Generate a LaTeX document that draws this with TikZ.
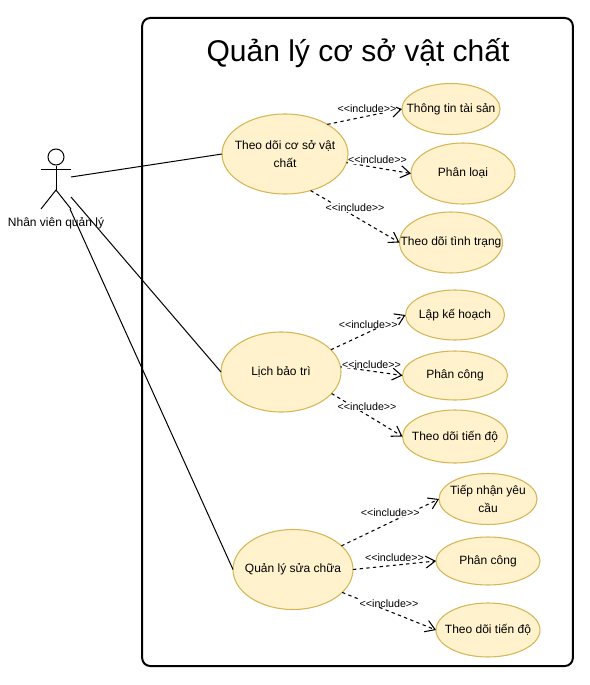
\documentclass[tikz,border=0pt]{standalone}
\usepackage{fontspec}
\setmainfont{Liberation Sans}
\usetikzlibrary{arrows.meta,shapes.geometric}
\newcommand{\ucline}[1]{\makebox[0pt]{#1}}
\newcommand{\inclabel}{<\kern0pt<include>\kern0pt>}
\tikzset{
  usecase/.style 2 args={ellipse,draw=ucborder,fill=ucfill,line width=0.8pt,inner sep=0pt,outer sep=0pt,align=center,font=\fontsize{9}{13.5}\selectfont,minimum width=#1*0.75pt,minimum height=#2*0.75pt},
  incl/.style={dashed,dash pattern=on 2.5pt off 2.5pt,line width=0.8pt,-{Straight Barb[length=7pt,width=9pt]}},
  incltext/.style={fill=white,inner sep=0pt,font=\fontsize{8}{9.5}\selectfont},
  actorline/.style={line width=0.75pt},
}
\definecolor{ucfill}{HTML}{FFF2CC}
\definecolor{ucborder}{HTML}{D6B656}
\begin{document}
\begin{tikzpicture}[x=0.75pt,y=-0.75pt]
    \useasboundingbox (0,0) rectangle (589,685);
    % Frame and title
    \node[draw,line width=1.5pt,rounded corners=6pt,inner sep=0pt,minimum width=323pt,minimum height=486pt] (frame) at (357.5,342) {};
    \node[font=\fontsize{22.5}{28}\selectfont] (title) at (358,53) {Quản lý cơ sở vật chất};
    % Actor
    \node[circle,draw,actorline,minimum size=12pt,inner sep=0pt] (head) at (56,157) {};
    \coordinate (hip) at (56,190);
    \coordinate (armL) at (41,169);
    \coordinate (armR) at (71,169);
    \coordinate (footL) at (41,209);
    \coordinate (footR) at (71,209);
    \draw[actorline] (head) -- (hip);
    \draw[actorline] (armL) -- (armR);
    \draw[actorline] (footL) -- (hip) -- (footR);
    \node[font=\fontsize{9}{10}\selectfont] (actor) at (56,223) {Nhân viên quản lý};
    \coordinate (a1) at (71,177);
    \coordinate (a2) at (71,197);
    \coordinate (a3) at (70,209);
    % Use cases
    \node[usecase={126}{80}] (track) at (285,154) {\ucline{Theo dõi cơ sở vật}\\\ucline{chất}};
    \node[usecase={98}{51}] (info) at (451,109) {\ucline{Thông tin tài sản}};
    \node[usecase={104}{61}] (kind) at (463,173.5) {\ucline{Phân loại}};
    \node[usecase={103}{61}] (state) at (451,242.5) {\ucline{Theo dõi tình trạng}};
    \node[usecase={120}{80}] (maint) at (281,372) {\ucline{Lịch bảo trì}};
    \node[usecase={99}{50}] (plan) at (455,315) {\ucline{Lập kế hoạch}};
    \node[usecase={105}{49}] (assignA) at (455,375.5) {\ucline{Phân công}};
    \node[usecase={105}{53}] (progA) at (455,436.5) {\ucline{Theo dõi tiến độ}};
    \node[usecase={120}{80}] (repair) at (293,569.5) {\ucline{Quản lý sửa chữa}};
    \node[usecase={98}{51}] (receive) at (488,499) {\ucline{Tiếp nhận yêu}\\\ucline{cầu}};
    \node[usecase={104}{48}] (assignB) at (488,561) {\ucline{Phân công}};
    \node[usecase={104}{54}] (progB) at (488,630) {\ucline{Theo dõi tiến độ}};
    % Arrows
    \draw[actorline] (a1) -- (track.west);
    \draw[actorline] (a2) -- (maint.west);
    \draw[actorline] (a3) -- (repair.west);
    \draw[incl] (track.35) -- node[incltext,pos=.53,yshift=5.6pt] (t1) {\inclabel} (info.west);
    \draw[incl] (track.-8) -- node[incltext,pos=.48,yshift=6pt] (t2) {\inclabel} (kind.west);
    \draw[incl] (track.-55) -- node[incltext,pos=.5,yshift=6.7pt] (t3) {\inclabel} (state.west);
    \draw[incl] (maint.24) -- node[incltext,pos=.5,yshift=6pt] (t4) {\inclabel} (plan.west);
    \draw[incl] (maint.5) -- node[incltext,pos=.5,yshift=5pt] (t5) {\inclabel} (assignA.west);
    \draw[incl] (maint.-23) -- node[incltext,pos=.5,yshift=6pt] (t6) {\inclabel} (progA.west);
    \draw[incl] (repair.26) -- node[incltext,pos=.5,yshift=7pt] (t7) {\inclabel} (receive.west);
    \draw[incl] (repair.east) -- node[incltext,pos=.5,yshift=6pt] (t8) {\inclabel} (assignB.west);
    \draw[incl] (repair.-25) -- node[incltext,pos=.5,yshift=6pt] (t9) {\inclabel} (progB.west);
\end{tikzpicture}
\end{document}
